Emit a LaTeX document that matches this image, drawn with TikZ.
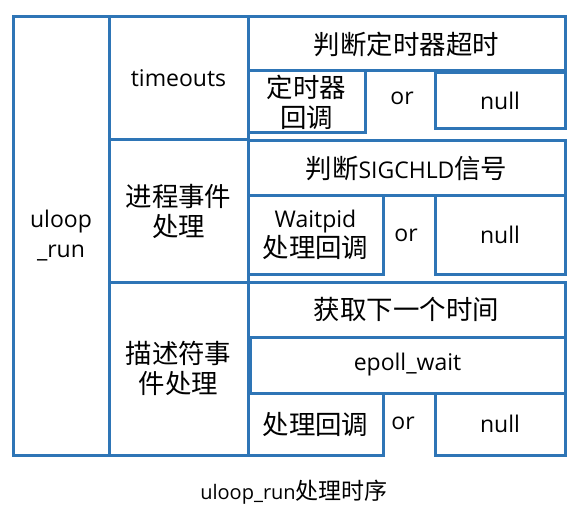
\documentclass[tikz,border=0pt]{standalone}
\usepackage{fontspec}
\setmainfont{Open Sans}
\newfontfamily\cjk[Scale=1.15]{Noto Sans CJK SC}
\newcommand{\zh}[1]{{\cjk #1}}
\definecolor{cellblue}{RGB}{46,117,182}
\begin{document}
\begin{tikzpicture}[x=1pt,y=-1pt,
  cell/.style={draw=cellblue,line width=3pt,rectangle,inner sep=0pt,align=center,
    font=\fontsize{23}{30}\selectfont},
  word/.style={inner sep=0pt,font=\fontsize{23}{30}\selectfont},
  caption/.style={inner sep=0pt,font=\fontsize{20}{24}\selectfont}]
  \useasboundingbox (0,0) rectangle (578,513);

  \node[cell,minimum width=96,minimum height=438] (run) at (61,236) {uloop\\\_run};
  \node[cell,minimum width=139,minimum height=123] (tmo) at (178.5,78.5) {timeouts};
  \node[cell,minimum width=139,minimum height=142] (proc) at (178.5,211) {\zh{进程事件}\\\zh{处理}};
  \node[cell,minimum width=139,minimum height=173] (fd) at (178.5,368.5) {\zh{描述符事}\\\zh{件处理}};

  \node[cell,minimum width=317,minimum height=54] (chk1) at (406.5,44) {\zh{判断定时器超时}};
  \node[cell,minimum width=117,minimum height=62] (tcb) at (306.5,102) {\zh{定时器}\\\zh{回调}};
  \node[word] (or1) at (402,98) {or};
  \node[cell,minimum width=130,minimum height=56] (null1) at (500,101) {null};

  \node[cell,minimum width=317,minimum height=55] (chk2) at (406.5,168.5) {\zh{判断}SIGCHLD\zh{信号}};
  \node[cell,minimum width=135,minimum height=78] (wcb) at (315.5,235) {Waitpid\\\zh{处理回调}};
  \node[word] (or2) at (406,235) {or};
  \node[cell,minimum width=130,minimum height=78] (null2) at (500,235) {null};

  \node[cell,minimum width=317,minimum height=55] (next) at (406.5,309.5) {\zh{获取下一个时间}};
  \node[cell,minimum width=315,minimum height=56] (ew) at (407.5,365) {epoll\_wait};
  \node[cell,minimum width=135,minimum height=62] (cb) at (315.5,424) {\zh{处理回调}};
  \node[word] (or3) at (403,423) {or};
  \node[cell,minimum width=130,minimum height=62] (null3) at (500,424) {null};

  \node[caption] (cap) at (294,492) {uloop\_run\zh{处理时序}};
\end{tikzpicture}
\end{document}
